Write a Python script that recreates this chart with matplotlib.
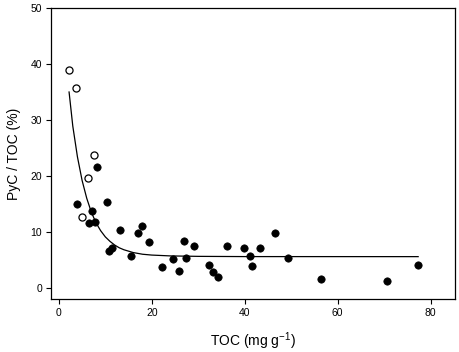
import matplotlib
matplotlib.use("Agg")
import matplotlib.pyplot as plt

# Filled circles
toc_filled = [3.9, 10.4, 7.1, 6.45, 7.8, 8.2, 13.2, 17.85, 17.1, 19.35, 10.75, 11.5,
              15.5, 22.1, 24.6, 25.9, 26.9, 27.4, 29.0, 32.4, 33.1, 34.3, 36.1, 39.8,
              41.1, 41.6, 43.2, 46.5, 49.2, 56.5, 70.5, 77.3]
pyc_filled = [14.9, 15.3, 13.8, 11.5, 11.7, 21.6, 10.3, 11.1, 9.75, 8.1, 6.6, 7.06,
              5.7, 3.7, 5.1, 3.0, 8.4, 5.4, 7.5, 4.0, 2.9, 1.9, 7.5, 7.2,
              5.7, 3.95, 7.06, 9.8, 5.3, 1.6, 1.3, 4.1]
# Open circles
toc_open = [2.15, 3.6, 7.5, 6.3, 4.9]
pyc_open = [39.0, 35.7, 23.75, 19.7, 12.7]

# Fitted curve
curve_x = [2.2, 3.0, 4.0, 5.0, 6.0, 7.0, 8.0, 9.0, 10.0, 11.0, 12.0, 13.0, 14.0,
           16.0, 18.0, 20.0, 24.0, 30.0, 40.0, 77.3]
curve_y = [35.0, 28.9, 23.4, 19.2, 16.0, 13.5, 11.6, 10.2, 9.1, 8.3, 7.65, 7.15, 6.8,
           6.3, 6.0, 5.85, 5.7, 5.62, 5.58, 5.57]

xticks = [0, 20, 40, 60, 80]
yticks = [0, 10, 20, 30, 40, 50]

plt.rcParams['font.family'] = ['Liberation Sans', 'DejaVu Sans']

fig = plt.figure(figsize=(4.59, 3.52), dpi=100)
ax = fig.add_axes([0.111, 0.1506, 0.880, 0.8264])

ax.plot(curve_x, curve_y, color='black', lw=0.9, zorder=2)
ax.scatter(toc_filled, pyc_filled, s=28, c='black', edgecolors='black', linewidths=0.5, zorder=3)
ax.scatter(toc_open, pyc_open, s=26, facecolors='white', edgecolors='black', linewidths=0.9, zorder=3)

ax.set_xlim(-1.7, 85.2)
ax.set_ylim(-2.0, 50)
ax.set_xticks(xticks)
ax.set_yticks(yticks)
ax.tick_params(direction='out', length=3.5, width=0.8, labelsize=7.5, pad=3)
for s in ax.spines.values():
    s.set_linewidth(0.9)

ax.set_xlabel('TOC (mg g$^{\\mathregular{-1}}$)', fontsize=10, labelpad=9)
ax.set_ylabel('PyC / TOC (%)', fontsize=10, labelpad=7)

fig.savefig('out.png', dpi=100)
